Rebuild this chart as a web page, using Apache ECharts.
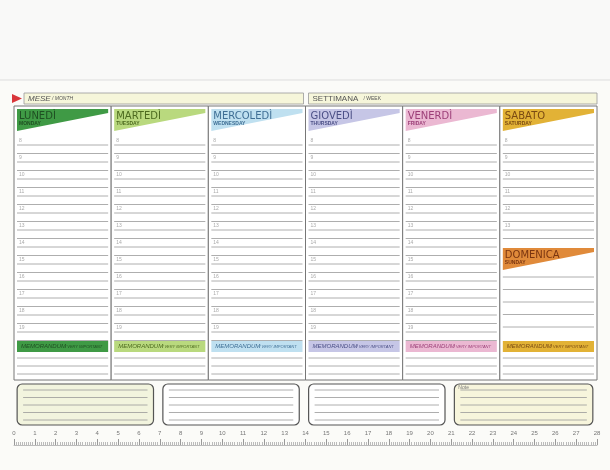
<!DOCTYPE html>
<html><head><meta charset="utf-8">
<script src="https://cdn.jsdelivr.net/npm/echarts@6/dist/echarts.min.js"></script>
<style>html,body{margin:0;padding:0;background:#fbfbf8}#c{width:610px;height:470px}</style>
</head><body><div id="c"></div>
<script>
const days = ['LUNEDÌ','MARTEDÌ','MERCOLEDÌ','GIOVEDÌ','VENERDÌ','SABATO'];
const daysEn = ['MONDAY','TUESDAY','WEDNESDAY','THURSDAY','FRIDAY','SATURDAY'];
const dayColors = ['#3f9a45','#b9d97e','#bfe0f0','#c6c6e6','#ebb8d2','#e2b236'];
const dayText = ['#1f4f22','#4d6a1f','#3f6f95','#4b4f86','#9c3f78','#7a4a12'];
const hours = [8,9,10,11,12,13,14,15,16,17,18,19];
const rulerTicks = Array.from({length:29},(_, i)=>i);
const boxes = [[0.15,6.7,'#f2f4de',''],[7.15,13.7,'#ffffff',''],[14.15,20.7,'#ffffff',''],[21.15,27.8,'#f7f5dc','Note']];
const colW = 28/6;
const chart = echarts.init(document.getElementById('c'));

function dayCol(params, api){
  const i = params.dataIndex;
  const x0 = i*colW, x1 = (i+1)*colW;
  const p = (x,y)=>api.coord([x,y]);
  const L = p(x0,106), R = p(x1,380);
  const lx = L[0]+3, rx = R[0]-3;
  const ch = [];
  ch.push({type:'rect',shape:{x:L[0],y:L[1],width:R[0]-L[0],height:R[1]-L[1]},style:{fill:'#fff',stroke:'#777',lineWidth:1}});
  const head = (y, name, en, col, tc)=>{
    ch.push({type:'polygon',shape:{points:[[lx,y],[rx,y],[rx,y+4],[lx,y+22]]},style:{fill:col}});
    ch.push({type:'text',style:{x:lx+2,y:y+2,text:name,fill:tc,font:'10px "DejaVu Sans", sans-serif'}});
    ch.push({type:'text',style:{x:lx+2,y:y+12,text:en,fill:tc,font:'600 5px sans-serif'}});
  };
  head(109, days[i], daysEn[i], dayColors[i], dayText[i]);
  hours.forEach((h,k)=>{
    const y = 145 + k*17;
    if(i===5 && k>=6) return;
    ch.push({type:'text',style:{x:lx+2,y:y-7,text:String(h),fill:'#aaa',font:'5px sans-serif'}});
    ch.push({type:'line',shape:{x1:lx,y1:y,x2:rx,y2:y},style:{stroke:'#999',lineWidth:0.8}});
    ch.push({type:'line',shape:{x1:lx,y1:y+8.5,x2:rx,y2:y+8.5},style:{stroke:'#999',lineWidth:0.8}});
  });
  if(i===5){
    head(248,'DOMENICA','SUNDAY','#e08a3a','#7a3510');
    for(let k=0;k<5;k++){const y=277+k*12.5;ch.push({type:'line',shape:{x1:lx,y1:y,x2:rx,y2:y},style:{stroke:'#999',lineWidth:0.8}});}
  }
  ch.push({type:'rect',shape:{x:lx,y:341,width:rx-lx,height:11},style:{fill:dayColors[i]}});
  ch.push({type:'text',style:{x:lx+4,y:343.5,text:'MEMORANDUM',fill:dayText[i],font:'italic 6px sans-serif'}});
  ch.push({type:'text',style:{x:lx+48,y:345,text:'/ VERY IMPORTANT',fill:dayText[i],font:'italic 4px sans-serif'}});
  [358,366,374].forEach(y=>ch.push({type:'line',shape:{x1:lx,y1:y,x2:rx,y2:y},style:{stroke:'#999',lineWidth:0.8}}));
  return {type:'group',children:ch};
}
function boxItem(params, api){
  const b = boxes[params.dataIndex];
  const a = api.coord([b[0],384]), c = api.coord([b[1],425]);
  const ch=[{type:'rect',shape:{x:a[0],y:a[1],width:c[0]-a[0],height:c[1]-a[1],r:5},style:{fill:b[2],stroke:'#555',lineWidth:1.2}}];
  for(let k=0;k<5;k++){const y=a[1]+6+k*7.5;ch.push({type:'line',shape:{x1:a[0]+6,y1:y,x2:c[0]-6,y2:y},style:{stroke:'#999',lineWidth:0.8}});}
  if(b[3]) ch.push({type:'text',style:{x:a[0]+4,y:a[1]+1,text:b[3],fill:'#777',font:'5px sans-serif'}});
  return {type:'group',children:ch};
}
function headerBar(params, api){
  const a = api.coord([0,93]);
  const m = api.coord([14,93]), e = api.coord([28,104]);
  return {type:'group',children:[
    {type:'rect',shape:{x:0,y:0,width:610,height:80},style:{fill:'#f9f9f8'}},
    {type:'line',shape:{x1:0,y1:80,x2:610,y2:80},style:{stroke:'#ddd'}},
    {type:'polygon',shape:{points:[[a[0]-2,a[1]+1],[a[0]-2,a[1]+10],[a[0]+8,a[1]+5.5]]},style:{fill:'#d9363a'}},
    {type:'rect',shape:{x:a[0]+10,y:a[1],width:m[0]-a[0]-12,height:e[1]-a[1]},style:{fill:'#f6f6da',stroke:'#999',lineWidth:0.8}},
    {type:'text',style:{x:a[0]+14,y:a[1]+2,text:'MESE',fill:'#555',font:'italic 8px sans-serif'}},
    {type:'text',style:{x:a[0]+38,y:a[1]+3.5,text:'/ MONTH',fill:'#555',font:'italic 5px sans-serif'}},
    {type:'rect',shape:{x:m[0]+3,y:a[1],width:e[0]-m[0]-3,height:e[1]-a[1]},style:{fill:'#f6f6da',stroke:'#999',lineWidth:0.8}},
    {type:'text',style:{x:m[0]+7,y:a[1]+2,text:'SETTIMANA',fill:'#555',font:'8px sans-serif'}},
    {type:'text',style:{x:m[0]+58,y:a[1]+3.5,text:'/ WEEK',fill:'#555',font:'5px sans-serif'}}
  ]};
}
chart.setOption({
  animation:false,
  grid:{left:14,right:13,top:0,bottom:25},
  xAxis:{type:'value',min:0,max:28,interval:1,position:'bottom',z:10,
    axisLine:{onZero:false,lineStyle:{color:'#bbb'}},
    axisTick:{show:true,inside:true,length:6,lineStyle:{color:'#999'}},
    minorTick:{show:true,splitNumber:10,length:3,lineStyle:{color:'#bbb'}},
    axisLabel:{inside:true,margin:9,color:'#777',fontSize:6,formatter:v=>rulerTicks.includes(v)?String(v):''},
    splitLine:{show:false}},
  yAxis:{type:'value',min:0,max:445,inverse:true,show:false},
  series:[
    {type:'custom',renderItem:headerBar,data:[0],z:1},
    {type:'custom',renderItem:dayCol,data:days.map((d,i)=>i),z:2},
    {type:'custom',renderItem:boxItem,data:boxes.map((b,i)=>i),z:2}
  ]
});
</script></body></html>
